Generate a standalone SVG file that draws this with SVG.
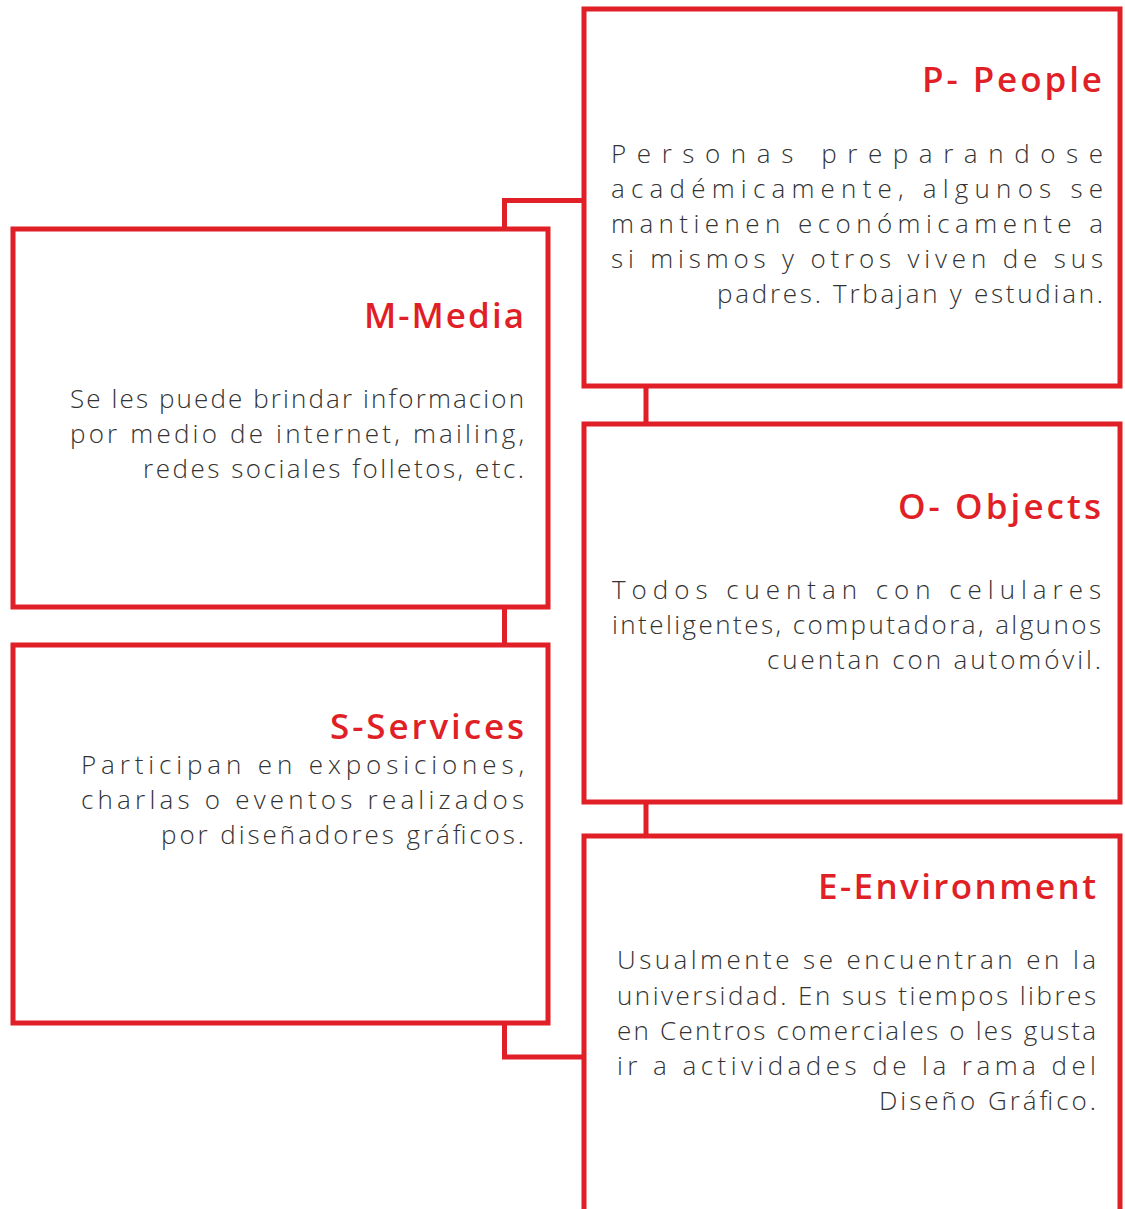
<svg xmlns="http://www.w3.org/2000/svg" width="1125" height="1209" viewBox="0 0 1125 1209">
<style>
.box{fill:none;stroke:#e01f26;stroke-width:5}
.con{fill:none;stroke:#e01f26;stroke-width:5}
.t{font-family:"Open Sans","Liberation Sans",sans-serif;font-weight:600;font-size:35px;fill:#e01f26}
.b{font-family:"Open Sans","Liberation Sans",sans-serif;font-weight:300;font-size:26px;fill:#333333}
</style>
<rect width="1125" height="1209" fill="#ffffff"/>
<g id="connectors">
<path class="con" d="M584,200.5 H504.5 V229"/>
<path class="con" d="M646,386 V424"/>
<path class="con" d="M504.5,607 V645"/>
<path class="con" d="M646,802 V836"/>
<path class="con" d="M504.5,1023 V1057 H584"/>
</g>
<g id="people">
<rect class="box" x="584" y="9" width="536" height="377"/>
<text class="t" x="922" y="92" textLength="180" lengthAdjust="spacing">P- People</text>
<text class="b" x="611" y="163" textLength="492" lengthAdjust="spacing">Personas  preparandose</text>
<text class="b" x="611" y="198" textLength="492" lengthAdjust="spacing">académicamente, algunos se</text>
<text class="b" x="611" y="233" textLength="492" lengthAdjust="spacing">mantienen económicamente a</text>
<text class="b" x="611" y="268" textLength="492" lengthAdjust="spacing">si mismos y otros viven de sus</text>
<text class="b" x="717" y="303" textLength="386" lengthAdjust="spacing">padres. Trbajan y estudian.</text>
</g>
<g id="media">
<rect class="box" x="13" y="229" width="535" height="378"/>
<text class="t" x="364" y="328" textLength="160" lengthAdjust="spacing">M-Media</text>
<text class="b" x="70" y="408" textLength="454" lengthAdjust="spacing">Se les puede brindar informacion</text>
<text class="b" x="70" y="443" textLength="454" lengthAdjust="spacing">por medio de internet, mailing,</text>
<text class="b" x="143" y="478" textLength="381" lengthAdjust="spacing">redes sociales folletos, etc.</text>
</g>
<g id="objects">
<rect class="box" x="584" y="424" width="536" height="378"/>
<text class="t" x="898" y="519" textLength="203" lengthAdjust="spacing">O- Objects</text>
<text class="b" x="612" y="599" textLength="489" lengthAdjust="spacing">Todos cuentan con celulares</text>
<text class="b" x="612" y="634" textLength="489" lengthAdjust="spacing">inteligentes, computadora, algunos</text>
<text class="b" x="767" y="669" textLength="334" lengthAdjust="spacing">cuentan con automóvil.</text>
</g>
<g id="services">
<rect class="box" x="13" y="645" width="535" height="378"/>
<text class="t" x="330" y="739" textLength="194" lengthAdjust="spacing">S-Services</text>
<text class="b" x="81" y="774" textLength="443" lengthAdjust="spacing">Participan en exposiciones,</text>
<text class="b" x="81" y="809" textLength="443" lengthAdjust="spacing">charlas o eventos  realizados</text>
<text class="b" x="161" y="844" textLength="363" lengthAdjust="spacing">por diseñadores gráficos.</text>
</g>
<g id="environment">
<path class="box" d="M584,1212 V836 H1120 V1212"/>
<text class="t" x="818" y="899" textLength="278" lengthAdjust="spacing">E-Environment</text>
<text class="b" x="617" y="969" textLength="479" lengthAdjust="spacing">Usualmente se encuentran en la</text>
<text class="b" x="617" y="1005" textLength="479" lengthAdjust="spacing">universidad. En sus tiempos libres</text>
<text class="b" x="617" y="1040" textLength="479" lengthAdjust="spacing">en Centros comerciales o les gusta</text>
<text class="b" x="617" y="1075" textLength="479" lengthAdjust="spacing">ir a actividades de la rama del</text>
<text class="b" x="879" y="1110" textLength="217" lengthAdjust="spacing">Diseño Gráfico.</text>
</g>
</svg>
